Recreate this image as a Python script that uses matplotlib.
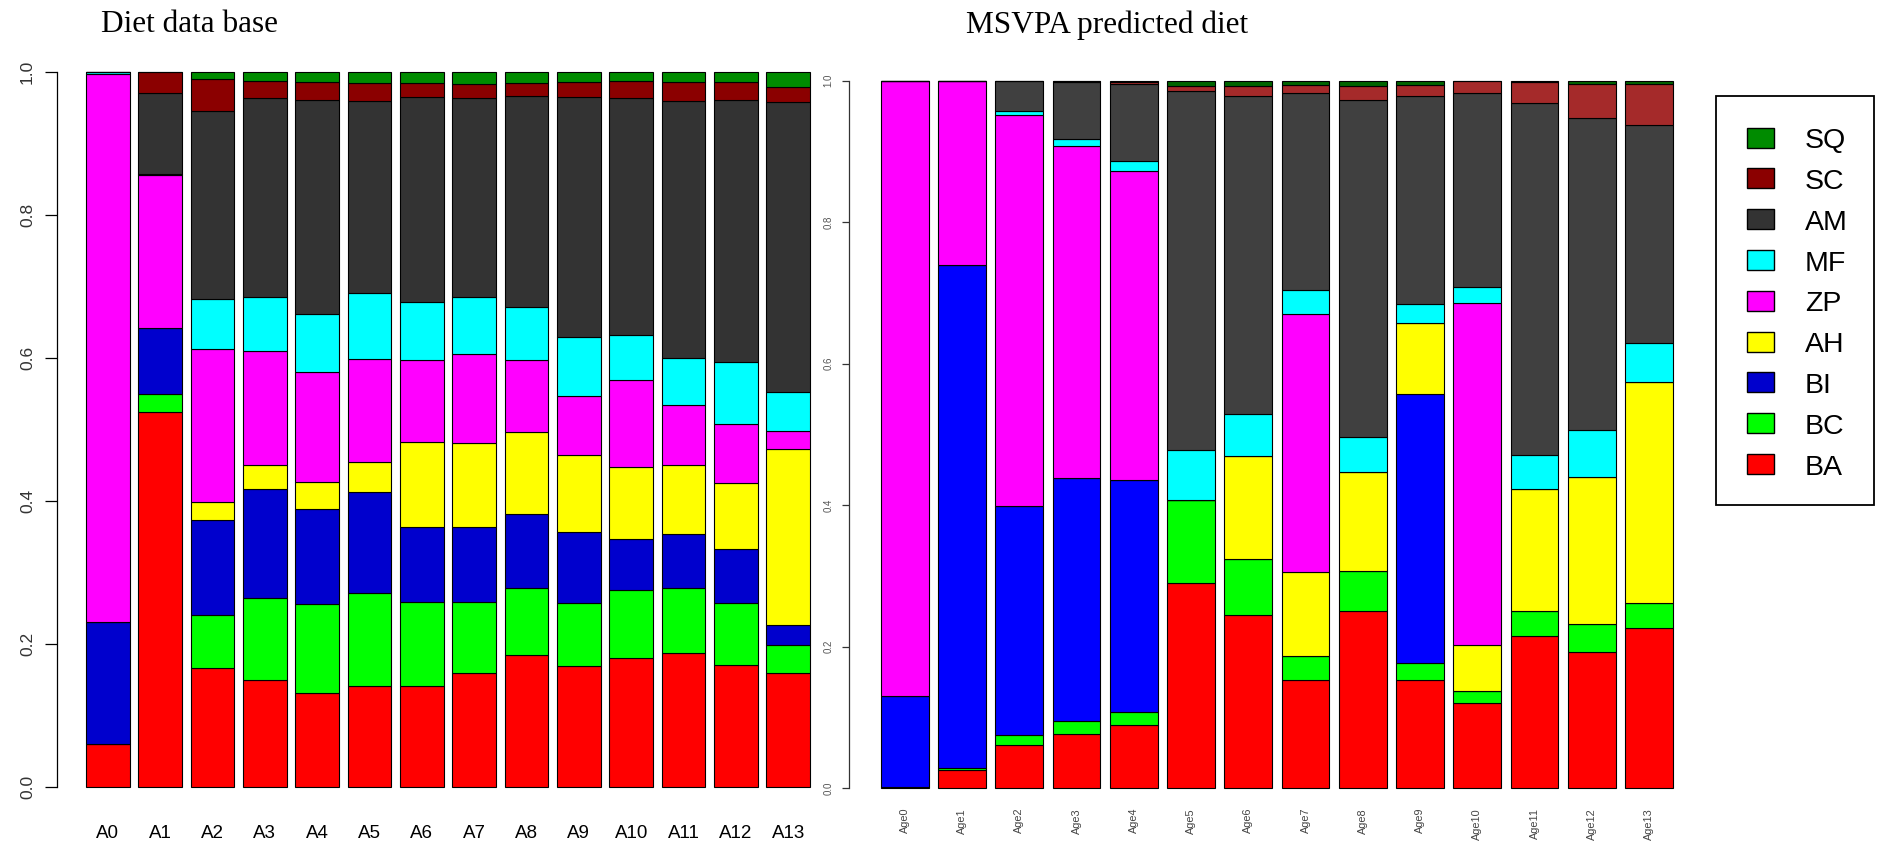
import matplotlib
matplotlib.use("Agg")
import matplotlib.pyplot as plt
from matplotlib.patches import Rectangle
import numpy as np

# ---------------- data ----------------
prey = ["BA", "BC", "BI", "AH", "ZP", "MF", "AM", "SC", "SQ"]
ages_db = ["A0", "A1", "A2", "A3", "A4", "A5", "A6", "A7", "A8", "A9", "A10", "A11", "A12", "A13"]
ages_msvpa = ["Age0", "Age1", "Age2", "Age3", "Age4", "Age5", "Age6", "Age7", "Age8",
              "Age9", "Age10", "Age11", "Age12", "Age13"]

# Diet data base (proportions by prey, per age A0..A13)
BA_db = [.060, .525, .167, .150, .132, .141, .141, .160, .185, .169, .181, .187, .171, .159]
BC_db = [0, .024, .073, .114, .124, .130, .118, .099, .093, .088, .095, .091, .086, .040]
BI_db = [.171, .093, .134, .153, .133, .142, .104, .104, .104, .099, .071, .076, .076, .027]
AH_db = [0, 0, .024, .034, .037, .041, .120, .118, .115, .109, .100, .097, .092, .247]
ZP_db = [.766, .214, .215, .159, .154, .145, .114, .125, .100, .082, .122, .083, .083, .025]
MF_db = [.003, .002, .070, .075, .082, .092, .082, .079, .074, .083, .063, .066, .086, .055]
AM_db = [0, .112, .263, .278, .299, .268, .286, .278, .295, .335, .331, .359, .367, .405]
SC_db = [0, .030, .044, .025, .025, .026, .020, .020, .018, .021, .024, .027, .025, .021]
SQ_db = [0, 0, .010, .012, .014, .015, .015, .017, .016, .014, .013, .014, .014, .021]

# MSVPA predicted diet
BA_ms = [.002, .026, .061, .077, .090, .290, .245, .153, .251, .153, .120, .215, .193, .226]
BC_ms = [0, .002, .015, .018, .018, .117, .079, .034, .056, .024, .017, .036, .039, .036]
BI_ms = [.128, .711, .323, .344, .327, 0, 0, 0, 0, .380, 0, 0, 0, 0]
AH_ms = [0, 0, 0, 0, 0, 0, .146, .119, .140, .100, .065, .172, .208, .312]
ZP_ms = [.870, .261, .552, .469, .438, 0, 0, .365, 0, 0, .484, 0, 0, 0]
MF_ms = [0, 0, .006, .010, .013, .071, .059, .033, .049, .027, .023, .048, .067, .056]
AM_ms = [0, 0, .043, .080, .110, .507, .450, .279, .477, .295, .274, .497, .440, .308]
SC_ms = [0, 0, 0, .001, .002, .008, .013, .011, .020, .015, .017, .030, .049, .057]
SQ_ms = [0, 0, 0, .001, .002, .007, .008, .006, .007, .006, 0, .002, .004, .005]

series_db = [BA_db, BC_db, BI_db, AH_db, ZP_db, MF_db, AM_db, SC_db, SQ_db]
series_ms = [BA_ms, BC_ms, BI_ms, AH_ms, ZP_ms, MF_ms, AM_ms, SC_ms, SQ_ms]

colors_db = ["#FF0000", "#00FF00", "#0000CD", "#FFFF00", "#FF00FF", "#00FFFF",
             "#333333", "#8B0000", "#008B00"]
colors_ms = ["#FF0000", "#00FF00", "#0000FF", "#FFFF00", "#FF00FF", "#00FFFF",
             "#404040", "#A52A2A", "#006400"]

# ---------------- layout ----------------
W, H = 1881, 846
fig = plt.figure(figsize=(W / 100, H / 100), dpi=100)
SANS = "Liberation Sans"
SERIF = "Liberation Serif"


def px_axes(l, t, r, b):
    return fig.add_axes([l / W, 1 - b / H, (r - l) / W, (b - t) / H])


def stacked(ax, series, colors, labels):
    x = 0.7 + 1.2 * np.arange(len(labels))
    bottom = np.zeros(len(labels))
    for vals, col in zip(series, colors):
        v = np.asarray(vals, dtype=float)
        ax.bar(x, v, width=1.0, bottom=bottom, color=col, edgecolor="black",
               linewidth=0.8, zorder=2)
        bottom += v
    ax.set_xlim(-0.464, 17.464)
    ax.set_ylim(-0.04, 1.04)
    for s in ["top", "right", "bottom"]:
        ax.spines[s].set_visible(False)
    ax.spines["left"].set_bounds(0, 1)
    ax.set_yticks([0, 0.2, 0.4, 0.6, 0.8, 1.0])
    ax.set_yticklabels(["0.0", "0.2", "0.4", "0.6", "0.8", "1.0"])
    return x


# Left panel
ax1 = px_axes(57, 43.4, 839, 815.6)
x1 = stacked(ax1, series_db, colors_db, ages_db)
ax1.spines["left"].set_linewidth(0.9)
ax1.set_xticks(x1)
ax1.set_xticklabels(ages_db, fontsize=13.5, family=SANS)
ax1.tick_params(axis="x", length=0, pad=6.5)
ax1.tick_params(axis="y", length=8.6, width=0.9, pad=7.3, labelsize=12.5,
                labelcolor="#333333", labelrotation=90)
for t in ax1.get_yticklabels():
    t.set_family(SANS)
    t.set_va("center")

# Right panel
ax2 = px_axes(849.3, 52.4, 1704.6, 816.6)
x2 = stacked(ax2, series_ms, colors_ms, ages_msvpa)
ax2.spines["left"].set_linewidth(0.9)
ax2.spines["left"].set_color("#333333")
ax2.set_xticks(x2)
ax2.set_xticklabels(ages_msvpa, fontsize=7.8, family=SANS, rotation=90,
                    color="#444444", va="top", ha="center")
ax2.tick_params(axis="x", length=0, pad=-6.2)
ax2.tick_params(axis="y", length=5, width=0.9, color="#333333", pad=6.6,
                labelsize=7, labelcolor="#555555", labelrotation=90)
for t in ax2.get_yticklabels():
    t.set_family(SANS)
    t.set_va("center")

# Titles
fig.text(190 / W, 1 - 31.7 / H, "Diet data base", ha="center", va="baseline",
         fontsize=22.5, family=SERIF)
fig.text(1107.5 / W, 1 - 32.5 / H, "MSVPA predicted diet", ha="center",
         va="baseline", fontsize=22.5, family=SERIF)

# Legend (drawn in a pixel-coordinate overlay)
axL = fig.add_axes([0, 0, 1, 1], zorder=5)
axL.set_xlim(0, W)
axL.set_ylim(H, 0)
axL.axis("off")
axL.patch.set_alpha(0)
axL.add_patch(Rectangle((1716, 96), 158, 409, fill=False, lw=1.3, ec="black"))
legend_order = ["SQ", "SC", "AM", "MF", "ZP", "AH", "BI", "BC", "BA"]
for i, name in enumerate(legend_order):
    cy = 137.7 + i * 40.8
    col = colors_db[prey.index(name)]
    axL.add_patch(Rectangle((1747, cy - 10), 27, 20, fc=col, ec="black", lw=1.0))
    axL.text(1805, cy + 10.5, name, ha="left", va="baseline", fontsize=20.5,
             family=SANS)

fig.savefig("out.png", dpi=100)
